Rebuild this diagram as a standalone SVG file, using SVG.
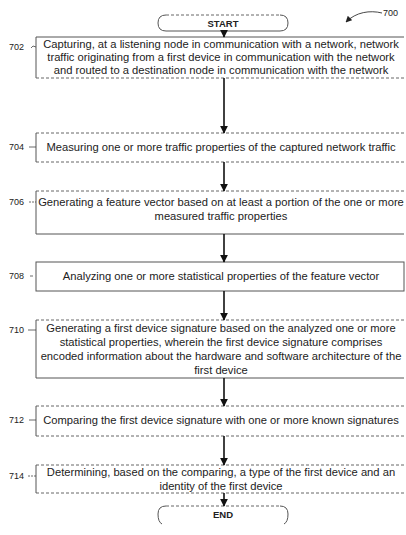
<svg xmlns="http://www.w3.org/2000/svg" width="406" height="535" viewBox="0 0 406 535">
<defs>
<style>
text{font-family:"Liberation Sans",Arial,sans-serif;fill:#222;}
.t{font-size:11.2px;text-anchor:middle;}
.lbl{font-size:9px;}
.b{font-size:9.5px;font-weight:bold;text-anchor:middle;}
.solid{fill:none;stroke:#555;stroke-width:1;}
.dash{fill:none;stroke:#666;stroke-width:1;stroke-dasharray:3,2;}
.tick{fill:none;stroke:#444;stroke-width:0.8;}
.arr{stroke:#111;stroke-width:1.6;fill:none;marker-end:url(#ah);}
</style>
<marker id="ah" viewBox="0 0 10 10" refX="9" refY="5" markerWidth="5" markerHeight="5" orient="auto" markerUnits="strokeWidth">
<path d="M0,0 L10,5 L0,10 z" fill="#111"/>
</marker>
<marker id="ah2" viewBox="0 0 10 10" refX="9" refY="5" markerWidth="7" markerHeight="7" orient="auto" markerUnits="strokeWidth">
<path d="M0,0 L10,5 L0,10 z" fill="#222"/>
</marker>
</defs>
<rect width="406" height="535" fill="#fff"/>

<g id="ref700">
<text class="lbl" x="383" y="16">700</text>
<path d="M382,13 C370,10 356,12 346,22" fill="none" stroke="#333" stroke-width="0.9" marker-end="url(#ah2)"/>
</g>

<g id="start">
<path class="dash" d="M166,15 H280"/>
<path class="solid" d="M166,31 H280"/>
<path class="solid" d="M166,15 Q158,15 158,23 Q158,31 166,31 M280,15 Q288,15 288,23 Q288,31 280,31"/>
<text class="b" x="223" y="27">START</text>
</g>

<g id="n702">
<path class="solid" d="M36,78 V37 H404"/>
<path class="dash" d="M36,78 H404"/>
<path class="tick" d="M31,48 l2,-2 l3,1"/>
<text class="lbl" x="9" y="50">702</text>
<text class="t" x="221" y="48">Capturing, at a listening node in communication with a network, network</text>
<text class="t" x="221" y="61">traffic originating from a first device in communication with the network</text>
<text class="t" x="221" y="74">and routed to a destination node in communication with the network</text>
</g>

<g id="n704">
<path class="dash" d="M36,133 H404 M36,162 H404"/>
<path class="solid" d="M36,133 V162"/>
<path class="tick" d="M29,147 H36"/>
<text class="lbl" x="9" y="150">704</text>
<text class="t" x="221" y="151">Measuring one or more traffic properties of the captured network traffic</text>
</g>

<g id="n706">
<path class="dash" d="M36,191 H404"/>
<path class="solid" d="M36,191 V234 H404"/>
<path class="tick" d="M29,202 H36" stroke-dasharray="2,1"/>
<text class="lbl" x="9" y="205">706</text>
<text class="t" x="221" y="206">Generating a feature vector based on at least a portion of the one or more</text>
<text class="t" x="221" y="220">measured traffic properties</text>
</g>

<g id="n708">
<rect class="solid" x="36" y="262" width="368" height="29"/>
<path class="tick" d="M30,276 H33"/>
<text class="lbl" x="9" y="279">708</text>
<text class="t" x="221" y="280">Analyzing one or more statistical properties of the feature vector</text>
</g>

<g id="n710">
<path class="dash" d="M36,320 H404"/>
<path class="solid" d="M36,320 V378 H404"/>
<path class="tick" d="M28,330 H36"/>
<text class="lbl" x="9" y="333">710</text>
<text class="t" x="221" y="332">Generating a first device signature based on the analyzed one or more</text>
<text class="t" x="221" y="346">statistical properties, wherein the first device signature comprises</text>
<text class="t" x="221" y="360">encoded information about the hardware and software architecture of the</text>
<text class="t" x="221" y="374">first device</text>
</g>

<g id="n712">
<path class="dash" d="M36,406 H404 M36,436 H404"/>
<path class="solid" d="M36,406 V436"/>
<path class="tick" d="M29,420 H36"/>
<text class="lbl" x="9" y="423">712</text>
<text class="t" x="221" y="424">Comparing the first device signature with one or more known signatures</text>
</g>

<g id="n714">
<path class="dash" d="M36,465 H404 M36,493 H404"/>
<path class="solid" d="M36,465 V493"/>
<path class="tick" d="M28,476 H36" stroke-dasharray="2,1"/>
<text class="lbl" x="9" y="479">714</text>
<text class="t" x="221" y="476">Determining, based on the comparing, a type of the first device and an</text>
<text class="t" x="221" y="490">identity of the first device</text>
</g>

<g id="end">
<path class="dash" d="M166,506 H280"/>
<path class="solid" d="M166,506 Q158,506 158,514 Q158,522 162,524 M280,506 Q288,506 288,514 Q288,522 284,524"/>
<text class="b" x="223" y="518">END</text>
</g>

<g id="connectors">
<path class="arr" d="M224,31 V37"/>
<path class="arr" d="M224,78 V133"/>
<path class="arr" d="M224,162 V191"/>
<path class="arr" d="M224,234 V262"/>
<path class="arr" d="M224,291 V320"/>
<path class="arr" d="M224,378 V406"/>
<path class="arr" d="M224,436 V465"/>
<path class="arr" d="M224,493 V506"/>
</g>
</svg>
